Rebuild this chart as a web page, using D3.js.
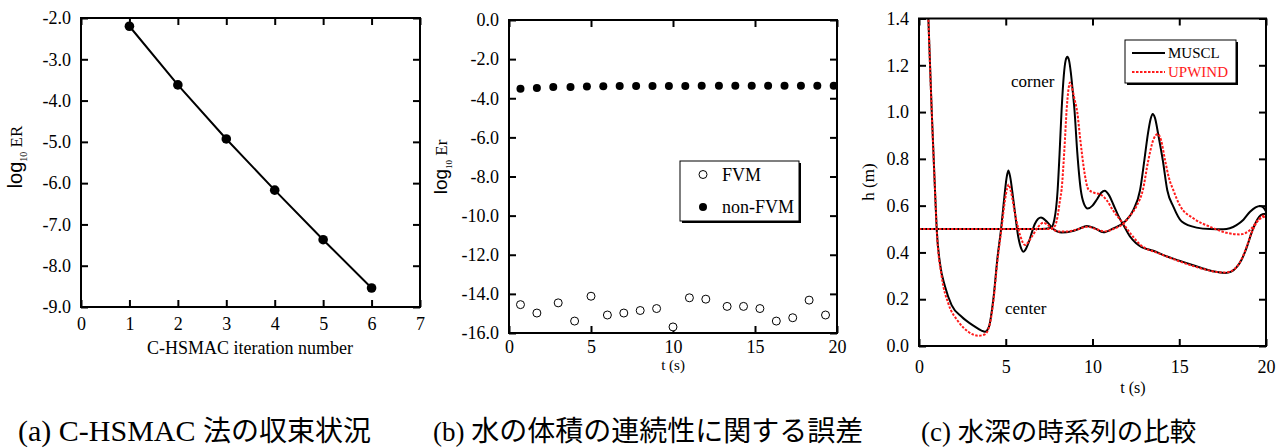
<!DOCTYPE html>
<html>
<head>
<meta charset="utf-8">
<script src="https://cdn.jsdelivr.net/npm/d3@7"></script>
<style>
body { margin: 0; background: #fff; }
svg text { font-family: "Liberation Serif", "Times New Roman", Times, "Noto Sans CJK JP", serif; }
</style>
</head>
<body>
<div class="container"></div>
<script>
// datos (a)
const iteraciones = [1, 2, 3, 4, 5, 6]
const logER = [-2.2, -3.62, -4.93, -6.17, -7.37, -8.54]

// datos (b)
const tFVM = [0.7, 1.7, 3.0, 4.0, 5.0, 6.0, 7.0, 8.0, 9.0, 10.0, 11.0, 12.0, 13.3, 14.3, 15.3, 16.3, 17.3, 18.3, 19.3]
const erFVM = [-14.55, -14.98, -14.46, -15.39, -14.12, -15.08, -14.98, -14.85, -14.75, -15.69, -14.2, -14.27, -14.64, -14.64, -14.75, -15.39, -15.22, -14.32, -15.08]
const tNoFVM = [0.7, 1.7, 2.7, 3.75, 4.75, 5.75, 6.75, 7.75, 8.75, 9.75, 10.75, 11.75, 12.8, 13.8, 14.8, 15.8, 16.8, 17.8, 18.8, 19.8]
const erNoFVM = [-3.51, -3.47, -3.43, -3.42, -3.4, -3.39, -3.38, -3.38, -3.37, -3.37, -3.37, -3.36, -3.36, -3.36, -3.36, -3.36, -3.36, -3.36, -3.36, -3.36]

// datos (c)  [t, h]
const centerMUSCL = [[0.45,1.6],[0.54,1.4],[0.73,1.01],[0.92,0.67],[1.02,0.5],[1.21,0.353],[1.5,0.254],[1.88,0.175],[2.46,0.125],[3.13,0.087],[3.6,0.066],[3.8,0.061],[4.03,0.082],[4.28,0.197],[4.53,0.382],[4.73,0.5],[4.92,0.638],[5.05,0.72],[5.15,0.75],[5.25,0.725],[5.44,0.624],[5.72,0.467],[5.9,0.415],[6.01,0.403],[6.12,0.41],[6.3,0.439],[6.69,0.524],[7.03,0.549],[7.36,0.532],[7.74,0.5],[8.22,0.485],[8.8,0.49],[9.2,0.5],[9.67,0.513],[10.14,0.503],[10.63,0.486],[11.2,0.503],[11.87,0.532],[12.35,0.581],[12.74,0.666],[12.99,0.795],[13.2,0.91],[13.35,0.97],[13.47,0.992],[13.6,0.975],[13.8,0.9],[14.05,0.795],[14.31,0.666],[14.66,0.596],[15.14,0.532],[16.0,0.506],[16.8,0.5],[17.54,0.499],[18.3,0.517],[18.7,0.54],[19.08,0.574],[19.4,0.593],[19.65,0.599],[19.85,0.592],[20,0.575]]
const centerUPWIND = [[0.45,1.6],[0.54,1.4],[0.73,1.01],[0.92,0.67],[1.02,0.5],[1.31,0.296],[1.69,0.182],[2.27,0.104],[2.84,0.061],[3.42,0.044],[3.8,0.05],[4.09,0.097],[4.3,0.2],[4.5,0.35],[4.75,0.5],[4.95,0.62],[5.08,0.675],[5.17,0.69],[5.3,0.66],[5.53,0.567],[5.82,0.475],[6.11,0.432],[6.5,0.467],[6.88,0.51],[7.17,0.527],[7.55,0.51],[8.0,0.49],[8.6,0.49],[9.2,0.5],[9.7,0.51],[10.2,0.5],[10.7,0.49],[11.2,0.5],[11.8,0.525],[12.2,0.56],[12.55,0.6],[12.9,0.666],[13.22,0.795],[13.5,0.88],[13.76,0.906],[13.95,0.88],[14.18,0.795],[14.4,0.72],[14.66,0.666],[15.04,0.6],[15.81,0.546],[16.77,0.51],[17.73,0.484],[18.5,0.477],[19.08,0.496],[19.56,0.539],[20,0.555]]
const cornerMUSCL = [[0,0.5],[7.0,0.5],[7.6,0.505],[7.8,0.54],[7.99,0.666],[8.1,0.82],[8.22,1.01],[8.35,1.16],[8.45,1.22],[8.55,1.236],[8.65,1.22],[8.75,1.17],[8.86,1.09],[8.96,1.01],[9.12,0.83],[9.32,0.67],[9.5,0.61],[9.72,0.588],[10.0,0.6],[10.24,0.625],[10.5,0.655],[10.7,0.664],[10.95,0.645],[11.2,0.605],[11.5,0.555],[11.8,0.515],[12.16,0.468],[12.5,0.44],[12.83,0.423],[13.5,0.407],[14.2,0.385],[15.0,0.365],[15.8,0.345],[16.6,0.326],[17.2,0.316],[17.64,0.312],[18.0,0.318],[18.31,0.337],[18.6,0.37],[18.89,0.422],[19.15,0.48],[19.37,0.522],[19.6,0.552],[19.8,0.563],[20,0.565]]
const cornerUPWIND = [[0,0.5],[7.6,0.5],[7.85,0.515],[8.0,0.56],[8.12,0.62],[8.22,0.67],[8.38,0.84],[8.51,1.01],[8.62,1.1],[8.7,1.126],[8.8,1.11],[8.95,1.06],[9.12,1.0],[9.3,0.88],[9.5,0.76],[9.76,0.67],[10.1,0.655],[10.45,0.648],[10.8,0.625],[11.2,0.578],[11.78,0.522],[12.35,0.466],[12.8,0.43],[13.12,0.415],[13.5,0.405],[14.2,0.385],[15.0,0.362],[15.8,0.342],[16.6,0.325],[17.2,0.316],[17.64,0.314],[18.0,0.32],[18.31,0.338],[18.6,0.372],[18.89,0.425],[19.15,0.48],[19.4,0.52],[19.7,0.55],[20,0.56]]

const ticksA_x = [0, 1, 2, 3, 4, 5, 6, 7]
const ticksA_y = [-9, -8, -7, -6, -5, -4, -3, -2]
const ticksB_x = [0, 5, 10, 15, 20]
const ticksB_y = [-16, -14, -12, -10, -8, -6, -4, -2, 0]
const ticksC_x = [0, 5, 10, 15, 20]
const ticksC_y = [0, 0.2, 0.4, 0.6, 0.8, 1.0, 1.2, 1.4]

const capLatin = ["(a) C-HSMAC ", "(b) ", "(c) "]
const capJapon = ["法の収束状況", "水の体積の連続性に関する誤差", "水深の時系列の比較"]

const svg = d3.select(".container")
              .append("svg")
              .attr("width", 1287)
              .attr("height", 448)

const fmt1 = d => d.toFixed(1)

// marco + ejes con ticks hacia adentro
const ejes = (p, x, y, xt, yt, xf, yf, padX) => {
    const g = svg.append("g")
    const estilo = (s) => {
        s.select(".domain").remove()
        s.attr("font-family", null)
        s.selectAll("line").attr("stroke", "#000").attr("stroke-width", 2)
        s.selectAll("text")
         .attr("fill", "#000")
         .style("font-size", "18px")
    }
    g.append("g").attr("transform", `translate(0,${p.bottom})`)
     .call(d3.axisBottom(x).tickValues(xt).tickFormat(xf).tickSize(-7).tickPadding(padX))
     .call(estilo)
    g.append("g").attr("transform", `translate(0,${p.top})`)
     .call(d3.axisTop(x).tickValues(xt).tickFormat("").tickSize(-7))
     .call(estilo)
    g.append("g").attr("transform", `translate(${p.left},0)`)
     .call(d3.axisLeft(y).tickValues(yt).tickFormat(yf).tickSize(-7).tickPadding(10))
     .call(estilo)
    g.append("g").attr("transform", `translate(${p.right},0)`)
     .call(d3.axisRight(y).tickValues(yt).tickFormat("").tickSize(-7))
     .call(estilo)
    g.append("rect")
     .attr("x", p.left).attr("y", p.top)
     .attr("width", p.right - p.left).attr("height", p.bottom - p.top)
     .attr("fill", "none").attr("stroke", "#000").attr("stroke-width", 2)
}

// ---------- (a)
const pa = {left: 81, right: 420, top: 18, bottom: 307}
const xa = d3.scaleLinear().domain([0, 7]).range([pa.left, pa.right])
const ya = d3.scaleLinear().domain([-9, -2]).range([pa.bottom, pa.top])
ejes(pa, xa, ya, ticksA_x, ticksA_y, d => d, fmt1, 10)

const datosA = iteraciones.map((d, i) => ({x: d, y: logER[i]}))
svg.append("path")
   .datum(datosA)
   .attr("fill", "none").attr("stroke", "#000").attr("stroke-width", 2)
   .attr("d", d3.line().x(d => xa(d.x)).y(d => ya(d.y)))
svg.selectAll(".ptA")
   .data(datosA)
   .join("circle")
   .attr("class", "ptA")
   .attr("cx", d => xa(d.x)).attr("cy", d => ya(d.y))
   .attr("r", 4.8).attr("fill", "#000")

const labA = svg.append("text")
   .attr("transform", "translate(22,157) rotate(-90)")
   .attr("text-anchor", "middle")
labA.append("tspan").style("font-family", "Liberation Sans").style("font-size", "20px").text("log")
labA.append("tspan").style("font-size", "10px").attr("dy", 5).text("10")
labA.append("tspan").style("font-size", "17px").attr("dy", -5).text(" ER")

svg.append("text")
   .attr("x", 250).attr("y", 354)
   .attr("text-anchor", "middle")
   .style("font-size", "18px")
   .text("C-HSMAC iteration number")

// ---------- (b)
const pb = {left: 509, right: 837, top: 20, bottom: 333}
const xb = d3.scaleLinear().domain([0, 20]).range([pb.left, pb.right])
const yb = d3.scaleLinear().domain([-16, 0]).range([pb.bottom, pb.top])
ejes(pb, xb, yb, ticksB_x, ticksB_y, d => d, fmt1, 7)

svg.selectAll(".fvm")
   .data(tFVM.map((t, i) => ({t: t, v: erFVM[i]})))
   .join("circle")
   .attr("class", "fvm")
   .attr("cx", d => xb(d.t)).attr("cy", d => yb(d.v))
   .attr("r", 4).attr("fill", "#fff").attr("stroke", "#000").attr("stroke-width", 1)
svg.selectAll(".nofvm")
   .data(tNoFVM.map((t, i) => ({t: t, v: erNoFVM[i]})))
   .join("circle")
   .attr("class", "nofvm")
   .attr("cx", d => xb(d.t)).attr("cy", d => yb(d.v))
   .attr("r", 4).attr("fill", "#000")

const labB = svg.append("text")
   .attr("transform", "translate(447,167) rotate(-90)")
   .attr("text-anchor", "middle")
labB.append("tspan").style("font-family", "Liberation Sans").style("font-size", "19px").text("log")
labB.append("tspan").style("font-size", "9px").attr("dy", 5).text("10")
labB.append("tspan").style("font-size", "17px").attr("dy", -5).text(" Er")

svg.append("text")
   .attr("x", 673).attr("y", 370)
   .attr("text-anchor", "middle")
   .style("font-size", "15px")
   .text("t (s)")

// leyenda (b)
const leyB = svg.append("g")
leyB.append("rect").attr("x", 682).attr("y", 163).attr("width", 119).attr("height", 60).attr("fill", "#000")
leyB.append("rect").attr("x", 680).attr("y", 161).attr("width", 119).attr("height", 60)
    .attr("fill", "#fff").attr("stroke", "#000").attr("stroke-width", 1)
leyB.append("circle").attr("cx", 703).attr("cy", 174.5).attr("r", 4)
    .attr("fill", "#fff").attr("stroke", "#000").attr("stroke-width", 1)
leyB.append("circle").attr("cx", 703).attr("cy", 207).attr("r", 4).attr("fill", "#000")
leyB.append("text").attr("x", 722).attr("y", 181).style("font-size", "18px").text("FVM")
leyB.append("text").attr("x", 722).attr("y", 213).style("font-size", "18px").text("non-FVM")

// ---------- (c)
const pc = {left: 919, right: 1266, top: 18.5, bottom: 346}
const xc = d3.scaleLinear().domain([0, 20]).range([pc.left, pc.right])
const yc = d3.scaleLinear().domain([0, 1.4]).range([pc.bottom, pc.top])

svg.append("clipPath").attr("id", "clipC")
   .append("rect")
   .attr("x", pc.left).attr("y", pc.top)
   .attr("width", pc.right - pc.left).attr("height", pc.bottom - pc.top)

const lineaC = d3.line().x(d => xc(d[0])).y(d => yc(d[1])).curve(d3.curveMonotoneX)
const curvas = svg.append("g").attr("clip-path", "url(#clipC)")
curvas.selectAll(".muscl")
      .data([centerMUSCL, cornerMUSCL])
      .join("path")
      .attr("class", "muscl")
      .attr("d", lineaC)
      .attr("fill", "none").attr("stroke", "#000").attr("stroke-width", 2)
curvas.selectAll(".upwind")
      .data([centerUPWIND, cornerUPWIND])
      .join("path")
      .attr("class", "upwind")
      .attr("d", lineaC)
      .attr("fill", "none").attr("stroke", "#ff1a1a").attr("stroke-width", 2)
      .attr("stroke-dasharray", "2.5,1.5")

ejes(pc, xc, yc, ticksC_x, ticksC_y, d => d, fmt1, 14)

svg.append("text").attr("x", 1011).attr("y", 87).style("font-size", "17px").text("corner")
svg.append("text").attr("x", 1005).attr("y", 314).style("font-size", "17px").text("center")

svg.append("text")
   .attr("transform", "translate(874,182) rotate(-90)")
   .attr("text-anchor", "middle")
   .style("font-size", "17px")
   .text("h (m)")
svg.append("text")
   .attr("x", 1133).attr("y", 393)
   .attr("text-anchor", "middle")
   .style("font-size", "16px")
   .text("t (s)")

// leyenda (c)
const leyC = svg.append("g")
leyC.append("rect").attr("x", 1127).attr("y", 42).attr("width", 111).attr("height", 43).attr("fill", "#000")
leyC.append("rect").attr("x", 1125).attr("y", 40).attr("width", 111).attr("height", 43)
    .attr("fill", "#fff").attr("stroke", "#000").attr("stroke-width", 1)
leyC.append("line").attr("x1", 1132).attr("x2", 1165).attr("y1", 53).attr("y2", 53)
    .attr("stroke", "#000").attr("stroke-width", 2)
leyC.append("line").attr("x1", 1132).attr("x2", 1165).attr("y1", 72).attr("y2", 72)
    .attr("stroke", "#ff1a1a").attr("stroke-width", 2).attr("stroke-dasharray", "2.5,1.5")
leyC.append("text").attr("x", 1168).attr("y", 58).style("font-size", "15px").text("MUSCL")
leyC.append("text").attr("x", 1168).attr("y", 77).style("font-size", "15px").attr("fill", "#ff1a1a").text("UPWIND")

// ---------- leyendas de figura
const cap = svg.selectAll(".cap")
   .data(capLatin)
   .join("text")
   .attr("class", "cap")
   .attr("x", (_, i) => [18, 433, 921][i])
   .attr("y", 441)
cap.append("tspan").style("font-size", (_, i) => i == 0 ? "30px" : "27px").text(d => d)
cap.append("tspan").style("font-size", (_, i) => i == 2 ? "26.5px" : "28px").text((_, i) => capJapon[i])
</script>
</body>
</html>
